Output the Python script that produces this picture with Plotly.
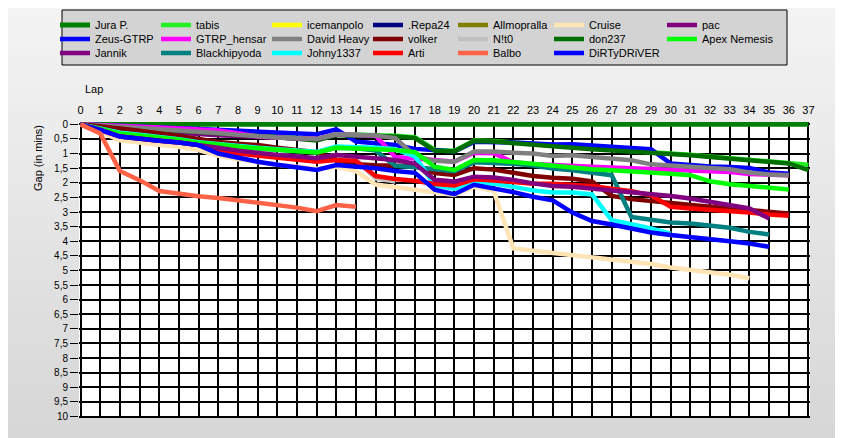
import plotly.graph_objects as go

# ---------------- data (gap to leader in minutes, index = lap) ----------------
JURA_P = [0, 0, 0, 0, 0, 0, 0, 0, 0, 0, 0, 0, 0, 0, 0, 0, 0, 0, 0, 0,
          0, 0, 0, 0, 0, 0, 0, 0, 0, 0, 0, 0, 0, 0, 0, 0, 0, 0]
TABIS = [0, 0.04, 0.08, 0.12, 0.16, 0.2, 0.24, 0.28, 0.31, 0.35, 0.4, 0.46, 0.52, 0.34, 0.35, 0.36,
         0.39, 0.44, 0.87, 0.9, 0.55, 0.57, 0.63, 0.69, 0.75, 0.78, 0.83, 0.87, 0.9, 0.95, 0.98,
         1.04, 1.1, 1.15, 1.21, 1.27, 1.33, 1.38]
ICEMANPOLO = [0]
REPA24 = [0, 0.05, 0.1, 0.14, 0.18, 0.21]
ALLMOPRALLA = [0]
CRUISE = [0, 0.25, 0.55, 0.62, 0.7, 0.78, 0.88, 1.08, 1.2, 1.3, 1.38, 1.45, 1.52, 1.45, 1.6, 2.06,
          2.15, 2.23, 2.3, 2.42, 2.14, 2.27, 4.25, 4.33, 4.4, 4.47, 4.55, 4.62, 4.7, 4.78, 4.9,
          4.98, 5.05, 5.15, 5.27]
PAC = [0, 0.08, 0.15, 0.2, 0.25, 0.29, 0.33, 0.37, 0.4, 0.42, 0.45, 0.48, 0.5]
ZEUS_GTRP = [0, 0.02, 0.05, 0.08, 0.1, 0.13, 0.16, 0.19, 0.22, 0.25, 0.28, 0.31, 0.34, 0.17, 0.59,
             0.65, 0.71, 0.84, 0.9, 0.93, 0.6, 0.6, 0.62, 0.66, 0.69, 0.68, 0.74, 0.77, 0.81, 0.85,
             1.34, 1.4, 1.44, 1.46, 1.49, 1.65, 1.69]
GTRP_HENSAR = [0, 0.02, 0.05, 0.08, 0.11, 0.14, 0.17, 0.21, 0.3, 0.42, 0.45, 0.48, 0.5, 0.34, 0.36,
               0.39, 1.12, 1.16, 1.22, 1.28, 0.97, 0.99, 1.3, 1.36, 1.4, 1.42, 1.45, 1.48, 1.5, 1.53,
               1.56, 1.58, 1.6, 1.63, 1.7, 1.73, 1.74]
DAVID_HEAVY = [0, 0.04, 0.08, 0.12, 0.16, 0.2, 0.25, 0.3, 0.36, 0.42, 0.45, 0.48, 0.5, 0.34, 0.36,
               0.38, 0.47, 1.08, 1.25, 1.28, 0.93, 0.93, 0.97, 1.0, 1.08, 1.06, 1.12, 1.17, 1.23,
               1.37, 1.42, 1.44, 1.49, 1.54, 1.65, 1.72, 1.74]
VOLKER = [0, 0.06, 0.14, 0.22, 0.3, 0.4, 0.5, 0.6, 0.66, 0.71, 0.8, 0.87, 0.95, 1.22, 1.37, 1.4,
          1.42, 1.43, 1.67, 1.73, 1.5, 1.55, 1.66, 1.77, 1.83, 1.86, 1.95, 2.45, 2.56, 2.63, 2.71,
          2.77, 2.82, 2.88, 2.94, 2.97, 3.05]
NIT0 = [0, 0.19, 0.42, 0.5, 0.56, 0.62, 0.7, 0.8, 0.9, 0.99, 1.05, 1.1, 1.16, 1.05, 1.2, 1.85, 1.96]
DON237 = [0, 0.05, 0.1, 0.14, 0.18, 0.22, 0.26, 0.3, 0.34, 0.38, 0.43, 0.49, 0.55, 0.37, 0.38, 0.39,
          0.42, 0.47, 0.9, 0.93, 0.57, 0.59, 0.65, 0.71, 0.77, 0.8, 0.85, 0.89, 0.92, 0.97, 1.0,
          1.06, 1.12, 1.17, 1.23, 1.29, 1.34, 1.57]
APEX_NEMESIS = [0, 0.14, 0.31, 0.38, 0.45, 0.53, 0.63, 0.7, 0.76, 0.82, 0.87, 0.92, 0.96, 0.8, 0.82,
                0.84, 0.88, 0.95, 1.45, 1.56, 1.22, 1.23, 1.29, 1.36, 1.43, 1.49, 1.54, 1.57, 1.6,
                1.65, 1.69, 1.74, 1.95, 2.05, 2.11, 2.18, 2.23]
JANNIK = [0, 0.19, 0.42, 0.5, 0.56, 0.62, 0.7, 0.8, 0.9, 0.99, 1.05, 1.1, 1.16, 1.05, 1.1, 1.16, 1.22,
          1.35, 1.9, 1.96, 1.79, 1.82, 1.9, 2.02, 2.11, 2.14, 2.2, 2.26, 2.31, 2.4, 2.45, 2.54, 2.65,
          2.74, 2.88, 3.22]
BLACKHIPYODA = [0, 0.14, 0.31, 0.38, 0.45, 0.53, 0.63, 0.7, 0.76, 0.82, 0.87, 0.92, 0.96, 0.8, 0.82,
                0.9, 1.42, 1.47, 1.52, 1.6, 1.3, 1.31, 1.35, 1.41, 1.51, 1.57, 1.65, 1.74, 3.17, 3.25,
                3.36, 3.39, 3.45, 3.54, 3.68, 3.77]
JOHNY1337 = [0, 0.13, 0.29, 0.36, 0.43, 0.51, 0.61, 0.68, 0.74, 0.8, 0.85, 0.9, 0.94, 0.76, 0.77,
             0.8, 0.85, 1.1, 2.08, 2.2, 1.99, 2.03, 2.14, 2.26, 2.33, 2.33, 2.4, 3.28, 3.42, 3.56,
             3.74]
ARTI = [0, 0.19, 0.42, 0.5, 0.56, 0.62, 0.71, 0.93, 1.0, 1.1, 1.17, 1.23, 1.28, 1.22, 1.25, 1.77,
        1.87, 1.93, 2.04, 2.09, 1.88, 1.92, 1.97, 2.03, 2.03, 2.06, 2.11, 2.2, 2.29, 2.43, 2.82,
        2.88, 2.92, 2.96, 3.02, 3.09, 3.13]
BALBO = [0, 0.31, 1.6, 1.91, 2.28, 2.38, 2.46, 2.52, 2.6, 2.68, 2.78, 2.85, 2.97, 2.76, 2.82]
DIRTYDRIVER = [0, 0.19, 0.42, 0.5, 0.56, 0.62, 0.71, 1.0, 1.15, 1.28, 1.38, 1.47, 1.56, 1.39, 1.45,
               1.5, 1.6, 1.66, 2.24, 2.39, 2.07, 2.19, 2.32, 2.48, 2.6, 3.02, 3.31, 3.43, 3.56, 3.7,
               3.79, 3.85, 3.93, 4.0, 4.08, 4.19]

SERIES = {
    "Jura P.": JURA_P, "tabis": TABIS, "icemanpolo": ICEMANPOLO, ".Repa24": REPA24,
    "Allmopralla": ALLMOPRALLA, "Cruise": CRUISE, "pac": PAC, "Zeus-GTRP": ZEUS_GTRP,
    "GTRP_hensar": GTRP_HENSAR, "David Heavy": DAVID_HEAVY, "volker": VOLKER, "N!t0": NIT0,
    "don237": DON237, "Apex Nemesis": APEX_NEMESIS, "Jannik": JANNIK,
    "Blackhipyoda": BLACKHIPYODA, "Johny1337": JOHNY1337, "Arti": ARTI, "Balbo": BALBO,
    "DiRTyDRiVER": DIRTYDRIVER,
}
COLORS = {
    "Jura P.": "#008000", "tabis": "#22ee22", "icemanpolo": "#ffff00", ".Repa24": "#000080",
    "Allmopralla": "#808000", "Cruise": "#ffe4b5", "pac": "#800080", "Zeus-GTRP": "#0000ff",
    "GTRP_hensar": "#ff00ff", "David Heavy": "#808080", "volker": "#800000", "N!t0": "#c0c0c0",
    "don237": "#006f00", "Apex Nemesis": "#00ff00", "Jannik": "#800080",
    "Blackhipyoda": "#008080", "Johny1337": "#00ffff", "Arti": "#ff0000", "Balbo": "#ff6347",
    "DiRTyDRiVER": "#0000ff",
}
LEGEND_ROWS = [
    ["Jura P.", "tabis", "icemanpolo", ".Repa24", "Allmopralla", "Cruise", "pac"],
    ["Zeus-GTRP", "GTRP_hensar", "David Heavy", "volker", "N!t0", "don237", "Apex Nemesis"],
    ["Jannik", "Blackhipyoda", "Johny1337", "Arti", "Balbo", "DiRTyDRiVER"],
]
DRAW_ORDER = ["Jura P.", "icemanpolo", "Allmopralla", ".Repa24", "pac", "tabis", "Zeus-GTRP",
              "don237", "N!t0", "Cruise", "GTRP_hensar", "David Heavy", "volker", "Blackhipyoda",
              "Johny1337", "Apex Nemesis", "Arti", "Jannik", "DiRTyDRiVER", "Balbo"]

Y_TICK_VALUES = [0, 0.5, 1, 1.5, 2, 2.5, 3, 3.5, 4, 4.5, 5, 5.5, 6, 6.5, 7, 7.5, 8, 8.5, 9, 9.5, 10]
Y_TICK_LABELS = ["0", "0,5", "1", "1,5", "2", "2,5", "3", "3,5", "4", "4,5", "5", "5,5", "6",
                 "6,5", "7", "7,5", "8", "8,5", "9", "9,5", "10"]

# ---------------- layout geometry ----------------
# the page places the figure 8px from the window's top-left corner (body margin),
# so figure coordinates are window coordinates minus this offset
OFF = 8
W, H = 843, 438
PW, PH = 731, 296
ML, MT = 79 - OFF, 122 - OFF
MR, MB = W - ML - PW, H - MT - PH
FONT = "Liberation Sans, Arial, sans-serif"


def paper_x(px):
    """window pixel x -> paper coordinate"""
    return (px - OFF - ML) / PW


def paper_y(py):
    """window pixel y -> paper coordinate"""
    return (MT + PH - (py - OFF)) / PH


fig = go.Figure()

# legend placement: one single-item legend per entry (columns as in the reference)
COL_TEXT_PX = [92, 193, 304, 405, 490, 586, 699]
ROW_CENTER_PX = [25, 39, 53]
legend_of = {}
legend_layouts = {}
k = 0
for r, row in enumerate(LEGEND_ROWS):
    for c, name in enumerate(row):
        k += 1
        lid = "legend" if k == 1 else "legend%d" % k
        legend_of[name] = lid
        legend_layouts[lid] = dict(
            x=paper_x(COL_TEXT_PX[c] - 37), y=paper_y(ROW_CENTER_PX[r] - 14.5),
            xanchor="left", yanchor="top", bgcolor="rgba(0,0,0,0)", borderwidth=0,
            font=dict(family=FONT, size=11, color="black"), orientation="v",
        )

for name in DRAW_ORDER:
    vals = SERIES[name]
    fig.add_trace(go.Scatter(
        x=list(range(len(vals))), y=vals, mode="lines", name=name,
        line=dict(color=COLORS[name], width=5 if name == "Jura P." else 4.5),
        legend=legend_of[name], showlegend=True, hoverinfo="skip",
    ))

# background gradient + white plot area + legend box
shapes = []
NB = 40
top_c, bot_c = (244, 244, 244), (214, 214, 214)
for i in range(NB):
    t = i / (NB - 1)
    col = tuple(int(round(top_c[j] + (bot_c[j] - top_c[j]) * t)) for j in range(3))
    y0 = (H + OFF) * i / NB
    y1 = (H + OFF) * (i + 1) / NB + 0.6
    shapes.append(dict(type="rect", xref="paper", yref="paper", layer="below",
                       x0=paper_x(0), x1=paper_x(W + OFF), y0=paper_y(y1), y1=paper_y(y0),
                       fillcolor="rgb(%d,%d,%d)" % col, line=dict(width=0)))
shapes.append(dict(type="rect", xref="paper", yref="paper", layer="below",
                   x0=0, x1=1, y0=0, y1=1, fillcolor="white", line=dict(width=0)))
shapes.append(dict(type="rect", xref="paper", yref="paper", layer="below",
                   x0=paper_x(62), x1=paper_x(787), y0=paper_y(65), y1=paper_y(10),
                   fillcolor="#d3d3d3", line=dict(color="black", width=1)))

fig.update_layout(
    width=W, height=H,
    margin=dict(l=ML, r=MR, t=MT, b=MB, autoexpand=False),
    paper_bgcolor="#e6e6e6", plot_bgcolor="white",
    font=dict(family=FONT, size=11, color="black"),
    shapes=shapes,
    xaxis=dict(range=[-0.08, 37.08], side="top", tickmode="linear", tick0=0, dtick=1,
               showgrid=True, gridcolor="black", gridwidth=2, zeroline=False, showline=False,
               ticks="outside", ticklen=3, tickcolor="rgba(0,0,0,0)",
               tickfont=dict(family=FONT, size=11, color="black"), fixedrange=True),
    yaxis=dict(range=[10.05, -0.08], tickmode="array", tickvals=Y_TICK_VALUES,
               ticktext=Y_TICK_LABELS, showgrid=True, gridcolor="black", gridwidth=2,
               zeroline=False, showline=False, ticks="outside", ticklen=8, tickwidth=1,
               tickcolor="black", tickfont=dict(family=FONT, size=10, color="black"),
               fixedrange=True),
    annotations=[
        dict(text="Lap", xref="paper", yref="paper", x=paper_x(83), y=paper_y(89),
             xanchor="left", yanchor="middle", showarrow=False,
             font=dict(family=FONT, size=11, color="black")),
        dict(text="Gap (in mins)", xref="paper", yref="paper", x=paper_x(38), y=paper_y(158),
             xanchor="center", yanchor="middle", textangle=-90, showarrow=False,
             font=dict(family=FONT, size=11, color="black")),
    ],
    hovermode=False,
    **legend_layouts,
)

fig.write_html("out.html")
